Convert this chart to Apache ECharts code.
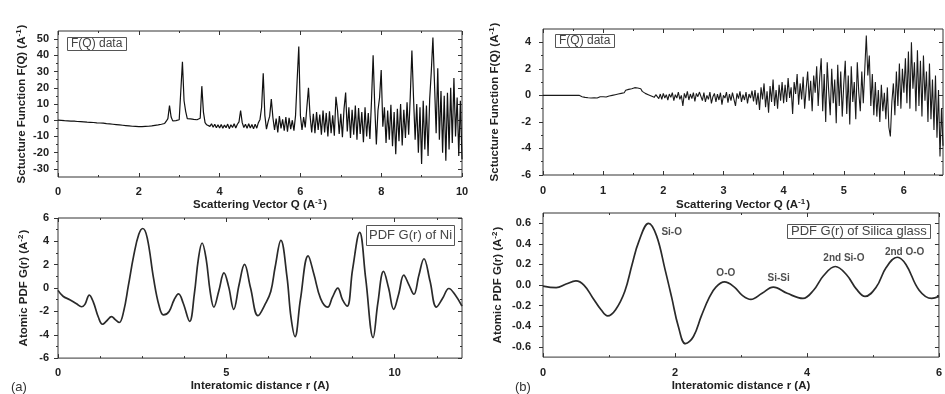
<!DOCTYPE html>
<html><head><meta charset="utf-8">
<script src="https://cdn.jsdelivr.net/npm/echarts@6/dist/echarts.min.js"></script>
<style>html,body{margin:0;padding:0;background:#fff}#c{width:945px;height:394px}</style>
</head><body><div id="c"></div>
<script>
// ---------------- DATA ----------------
// (a) Ni: structure function F(Q), sampled every niQStep from Q = 0
const niQStep = 0.04;
const niFq = [
0,-0.1,-0.1,-0.2,-0.3,-0.3,-0.4,-0.5,-0.5,-0.6,
-0.6,-0.7,-0.8,-0.8,-0.9,-1.0,-1.0,-1.1,-1.2,-1.2,
-1.3,-1.4,-1.4,-1.5,-1.6,-1.6,-1.7,-1.9,-1.8,-2.0,
-2.1,-2.0,-2.3,-2.2,-2.5,-2.4,-2.7,-2.6,-2.9,-2.8,
-3.1,-2.9,-3.3,-3.0,-3.5,-3.2,-3.7,-3.3,-3.8,-3.3,
-3.9,-3.4,-3.9,-3.3,-3.8,-3.2,-3.7,-3.0,-3.5,-2.8,
-3.2,-2.5,-2.9,-2.0,-2.5,-1.4,-2.0,-0.6,1.0,9.0,
2.0,-0.4,-1.2,-0.2,-0.8,0.3,1.5,36.0,12.0,5.5,
1.0,0.2,0.8,-0.3,0.5,-0.6,0.3,-0.4,1.2,21.0,
5.0,-1.5,-2.8,-1.6,-3.8,-2.2,-4.3,-2.5,-4.6,-2.8,
-4.8,-2.6,-5.0,-3.0,-4.6,-2.4,-5.2,-2.8,-4.5,-2.2,
-4.8,-2.5,-1.0,6.0,-1.5,-4.5,-2.5,-5.0,-2.2,-4.8,
-2.6,-5.3,-2.4,-4.9,-1.5,0.5,8.0,29.0,3.0,-5.5,
-1.0,2.5,13.0,1.5,-6.0,1.0,-7.5,2.5,-5.0,0.5,
-6.5,2.0,-7.0,1.5,-5.5,0.0,-6.5,3.0,25.0,45.5,
3.0,-6.0,2.0,-4.5,8.0,20.0,2.5,-7.5,4.0,-8.0,
5.0,-6.0,3.5,-9.0,6.0,-7.5,4.5,-10.0,5.5,-8.0,
3.0,-9.5,14.5,6.0,-8.5,4.0,-10.5,7.0,17.0,-7.0,
8.0,-11.0,6.5,-9.0,9.0,-12.0,7.5,-8.5,5.0,-13.5,
8.0,-10.0,4.5,-11.5,12.0,40.0,9.0,-15.0,6.0,14.0,
31.0,-4.0,8.0,-14.0,6.0,-12.0,9.5,-16.0,5.0,-21.0,
7.0,-13.0,10.0,-15.5,6.5,-11.0,11.0,-9.0,15.0,43.0,
14.0,-12.0,10.0,-20.0,8.0,-27.0,12.0,-18.0,9.0,-22.0,
13.0,30.0,51.0,22.0,-8.0,32.0,-12.0,18.0,-20.0,15.0,
-25.0,17.0,-18.0,20.0,-14.0,26.0,-10.0,14.0,-22.0,12.0,
-24.0
];
// (a) Ni: pair distribution function G(r)
const niR = [0.0,0.15,0.35,0.55,0.7,0.8,0.93,1.05,1.2,1.32,1.45,1.59,1.7,1.82,1.95,2.09,2.25,2.4,2.52,2.65,2.84,3.0,3.13,3.3,3.45,3.58,3.72,3.91,4.05,4.17,4.28,4.4,4.52,4.63,4.78,4.93,5.07,5.22,5.38,5.54,5.72,5.94,6.15,6.32,6.45,6.62,6.8,6.92,7.04,7.2,7.43,7.6,7.8,8.01,8.15,8.31,8.45,8.59,8.75,8.96,9.14,9.36,9.5,9.67,9.82,9.97,10.12,10.27,10.42,10.57,10.72,10.87,11.05,11.24,11.42,11.61,11.8,12.0];
const niG = [-0.2,-0.7,-1.0,-1.35,-1.6,-1.4,-0.6,-1.2,-2.5,-3.1,-2.8,-2.45,-2.7,-2.95,-2.0,0.2,2.8,4.6,5.1,4.3,0.8,-1.5,-2.3,-2.0,-1.0,-0.5,-1.3,-2.85,-0.5,2.5,3.86,2.5,-0.3,-1.63,-0.2,1.3,0.1,-1.82,0.3,2.02,0.0,-2.37,-1.4,-0.3,1.8,4.08,1.0,-2.5,-4.16,-1.0,2.76,1.2,-0.9,-1.63,-0.8,0.0,-1.0,-1.55,1.6,4.77,0.8,-4.24,-1.3,1.42,0.0,-1.82,-0.5,1.11,0.3,-0.53,1.1,2.51,0.6,-1.63,-0.9,-0.04,-0.6,-1.55];

// (b) Silica glass: F(Q), sampled every siQStep from Q = 0
const siQStep = 0.025;
const siFq = [
0,0,0,0,0,0,0,0,0,0,
0,0,0,0,0,0,0,0,0,0,
0,0,0,0,0,
-0.05,-0.1,-0.1,-0.15,-0.12,-0.18,-0.15,-0.2,-0.15,-0.18,-0.12,-0.2,-0.15,-0.1,-0.15,-0.1,
-0.05,-0.12,0.0,-0.05,0.08,0.0,0.12,0.05,0.2,0.1,0.25,0.15,
0.3,0.2,0.38,0.28,0.45,0.32,0.5,0.4,0.58,0.45,0.55,0.42,
0.5,0.3,0.4,0.15,0.3,0.05,0.2,-0.05,0.1,-0.15,0.05,-0.1,
-0.25,0.1,-0.3,0.15,-0.2,0.05,-0.35,0.1,-0.15,0.2,-0.4,0.05,-0.2,0.25,-0.3,0.0,-0.8,0.15,-0.2,0.3,-0.35,0.1,-0.25,0.2,-0.45,0.15,-0.1,0.25,
0.1,-0.4,0.2,-0.5,0.0,-0.3,0.25,-0.6,-0.1,0.15,-0.5,0.1,-0.35,0.2,-0.7,0.0,-0.2,0.25,-0.55,0.1,-0.4,0.2,-0.3,-0.8,0.15,-0.25,0.3,-0.5,0.05,-0.35,0.25,-0.6,0.1,-0.2,0.35,-0.45,
0.4,-0.7,0.2,-1.1,0.6,-0.3,0.9,-0.9,0.3,-1.3,0.7,-0.5,1.2,-0.8,0.4,-1.0,0.8,-0.4,1.0,-0.6,
0.8,-0.5,1.3,-0.2,0.6,-1.4,1.0,0.1,1.6,-0.7,0.9,-0.3,1.4,-1.0,0.5,1.8,-0.4,1.1,-1.2,1.5,0.2,2.2,-0.8,1.3,
2.8,-1.2,1.6,-2.0,2.5,0.3,-1.5,2.0,-0.6,1.2,-2.1,2.3,-0.8,1.8,-1.6,0.8,
2.6,-1.4,1.5,-2.2,2.2,-0.5,1.0,-1.8,2.5,0.2,-1.2,1.8,-0.6,2.0,4.5,1.5,3.0,-0.8,1.6,-1.5,
1.0,-1.6,0.4,-2.0,0.8,-1.2,0.2,-1.8,0.6,-2.4,-3.1,-0.5,0.9,-1.5,1.8,-0.8,2.4,-1.0,2.0,0.2,
2.8,-0.6,3.3,-1.0,4.0,0.5,2.5,-1.2,3.4,-0.8,2.6,-1.6,3.0,-0.4,1.8,-2.0,2.4,-1.8,1.2,-2.6,1.5,-3.2,0.4,-4.6,-1.0,-3.8
];
// (b) Silica glass: G(r)
const siR = [0.0,0.2,0.35,0.5,0.62,0.75,0.88,0.98,1.1,1.24,1.35,1.45,1.6,1.72,1.85,1.95,2.05,2.16,2.28,2.4,2.52,2.62,2.75,2.9,3.02,3.15,3.32,3.49,3.7,3.94,4.1,4.25,4.43,4.6,4.75,4.88,5.05,5.2,5.37,5.5,5.7,5.89,6.0];
const siG = [-0.01,-0.025,0.01,0.04,0.0,-0.12,-0.24,-0.30,-0.24,-0.06,0.2,0.42,0.6,0.48,0.15,-0.12,-0.4,-0.57,-0.5,-0.3,-0.12,-0.02,0.03,-0.02,-0.1,-0.14,-0.08,-0.02,-0.08,-0.13,-0.05,0.09,0.18,0.1,-0.04,-0.11,-0.02,0.17,0.27,0.2,-0.05,-0.13,-0.11];
// peak annotations on the silica G(r)
const siAnnoText = ['Si-O','O-O','Si-Si','2nd Si-O','2nd O-O'];
const siAnnoR = [1.95,2.77,3.57,4.56,5.48];
const siAnnoG = [0.51,0.11,0.065,0.26,0.32];

// tick values
const aTopXMajor = [0,2,4,6,8,10], aTopXMinor = [1,3,5,7,9];
const aTopYMajor = [-30,-20,-10,0,10,20,30,40,50], aTopYMinor = [-25,-15,-5,5,15,25,35,45];
const aBotXMajor = [0,5,10], aBotXMinor = [1.25,2.5,3.75,6.25,7.5,8.75,11.25];
const aBotYMajor = [-6,-4,-2,0,2,4,6], aBotYMinor = [-5,-3,-1,1,3,5];
const bTopXMajor = [0,1,2,3,4,5,6], bTopXMinor = [0.5,1.5,2.5,3.5,4.5,5.5,6.5];
const bTopYMajor = [-6,-4,-2,0,2,4], bTopYMinor = [-5,-3,-1,1,3];
const bBotXMajor = [0,2,4,6], bBotXMinor = [1,3,5];
const bBotYMajor = [-0.6,-0.4,-0.2,0.0,0.2,0.4,0.6], bBotYMinor = [-0.5,-0.3,-0.1,0.1,0.3,0.5];

// ---------------- CHART ----------------
const FONT = "'Liberation Sans', Arial, sans-serif";
const TICKC = '#333';
const lblStyle = {fontFamily: FONT, fontSize: 11, fontWeight: 'bold', color: '#222'};
const nameStyle = {fontFamily: FONT, fontSize: 11.5, fontWeight: 'bold', color: '#222', lineHeight: 14,
  rich: {
    n: {fontFamily: FONT, fontSize: 11.5, fontWeight: 'bold', color: '#222', lineHeight: 14},
    s: {fontFamily: FONT, fontSize: 8, fontWeight: 'bold', color: '#222', lineHeight: 14, verticalAlign: 'top', padding: [0, 1, 0, 0]}
  }};

const grids = [
  {left: 58, top: 31, width: 404, height: 146},
  {left: 58, top: 218, width: 404, height: 147},
  {left: 543, top: 29, width: 400, height: 146},
  {left: 543, top: 213, width: 401, height: 146}
];
grids.forEach(g => { g.show = true; g.borderColor = '#333'; g.borderWidth = 1; g.backgroundColor = 'transparent'; });

const intFmt = v => String(Math.round(v));
const oneFmt = v => (Math.abs(v) < 1e-9 ? 0 : v).toFixed(1);

const panels = [
  {x: {min: 0, max: 10, major: aTopXMajor, minor: aTopXMinor, name: '{n|Scattering Vector Q (A}{s|-1}{n|)}', nameGap: 20, margin: 9, fmt: intFmt},
   y: {min: -35, max: 55, major: aTopYMajor, minor: aTopYMinor, name: '{n|Sctucture Function F(Q) (A}{s|-1}{n|)}', nameGap: 29, margin: 9, fmt: intFmt}},
  {x: {min: 0, max: 12, major: aBotXMajor, minor: aBotXMinor, name: '{n|Interatomic distance r (A)}', nameGap: 19, margin: 9, fmt: intFmt},
   y: {min: -6, max: 6, major: aBotYMajor, minor: aBotYMinor, name: '{n|Atomic PDF G(r) (A}{s|-2}{n|)}', nameGap: 27, margin: 9, fmt: intFmt}},
  {x: {min: 0, max: 6.65, major: bTopXMajor, minor: bTopXMinor, name: '{n|Scattering Vector Q (A}{s|-1}{n|)}', nameGap: 23, margin: 10, fmt: intFmt},
   y: {min: -6, max: 5, major: bTopYMajor, minor: bTopYMinor, name: '{n|Sctucture Function F(Q) (A}{s|-1}{n|)}', nameGap: 41, margin: 12, fmt: intFmt}},
  {x: {min: 0, max: 6, major: bBotXMajor, minor: bBotXMinor, name: '{n|Interatomic distance r (A)}', nameGap: 21, margin: 10, fmt: intFmt},
   y: {min: -0.7, max: 0.7, major: bBotYMajor, minor: bBotYMinor, name: '{n|Atomic PDF G(r) (A}{s|-2}{n|)}', nameGap: 38, margin: 12, fmt: oneFmt}}
];

function tickAxis(base, pos, vals, len, inside) {
  return Object.assign({}, base, {
    position: pos,
    axisTick: {show: true, inside: inside, length: len, customValues: vals, lineStyle: {color: TICKC, width: 1}},
    axisLabel: {show: false}
  });
}

const xAxes = [], yAxes = [];
panels.forEach((p, gi) => {
  const bx = {type: 'value', gridIndex: gi, min: p.x.min, max: p.x.max, splitLine: {show: false}, axisLine: {show: false, onZero: false}};
  const mainX = tickAxis(bx, 'bottom', p.x.major, 4, true);
  mainX.axisLabel = Object.assign({show: true, customValues: p.x.major, margin: p.x.margin, formatter: p.x.fmt}, lblStyle);
  mainX.name = p.x.name; mainX.nameLocation = 'middle'; mainX.nameGap = p.x.nameGap; mainX.nameTextStyle = nameStyle;
  xAxes.push(mainX, tickAxis(bx, 'bottom', p.x.minor, 2, true), tickAxis(bx, 'top', p.x.major, 4, true), tickAxis(bx, 'top', p.x.minor, 2, true));

  const by = {type: 'value', gridIndex: gi, min: p.y.min, max: p.y.max, splitLine: {show: false}, axisLine: {show: false, onZero: false}};
  const mainY = tickAxis(by, 'left', p.y.major, 4, false);
  mainY.axisLabel = Object.assign({show: true, customValues: p.y.major, margin: p.y.margin, formatter: p.y.fmt}, lblStyle);
  mainY.name = p.y.name; mainY.nameLocation = 'middle'; mainY.nameGap = p.y.nameGap; mainY.nameTextStyle = nameStyle;
  yAxes.push(mainY, tickAxis(by, 'left', p.y.minor, 2, false), tickAxis(by, 'right', p.y.major, 4, true), tickAxis(by, 'right', p.y.minor, 2, true));
});

const niFqData = niFq.map((v, i) => [+(i * niQStep).toFixed(4), v]);
const siFqData = siFq.map((v, i) => [+(i * siQStep).toFixed(4), v]);
const niGData = niR.map((r, i) => [r, niG[i]]);
const siGData = siR.map((r, i) => [r, siG[i]]);
const annoData = siAnnoText.map((t, i) => ({name: t, value: [siAnnoR[i], siAnnoG[i]]}));

function box(text, left, top, pad, size) {
  const fs = size || 12;
  return {text: text, left: left, top: top, padding: pad || [1, 4], borderWidth: 1, borderColor: '#555',
    backgroundColor: '#fff',
    textStyle: {fontFamily: FONT, fontSize: fs, fontWeight: 'normal', color: '#444', lineHeight: fs}};
}
function plain(text, left, top) {
  return {text: text, left: left, top: top, padding: 0,
    textStyle: {fontFamily: FONT, fontSize: 13, fontWeight: 'normal', color: '#333'}};
}

const option = {
  animation: false,
  backgroundColor: '#fff',
  grid: grids,
  xAxis: xAxes,
  yAxis: yAxes,
  title: [
    box('F(Q) data', 67, 37),
    box('F(Q) data', 555, 34),
    box('PDF G(r) of Ni', 366, 225, [4, 3], 13),
    box('PDF G(r) of Silica glass', 787, 224, [1, 4], 13),
    plain('(a)', 11, 381),
    plain('(b)', 515, 381)
  ],
  series: [
    {type: 'line', xAxisIndex: 0, yAxisIndex: 0, data: niFqData, showSymbol: false, lineStyle: {color: '#111', width: 1.2}},
    {type: 'line', xAxisIndex: 4, yAxisIndex: 4, data: niGData, showSymbol: false, smooth: 0.4, lineStyle: {color: '#2a2a2a', width: 1.7}},
    {type: 'line', xAxisIndex: 8, yAxisIndex: 8, data: siFqData, showSymbol: false, lineStyle: {color: '#1a1a1a', width: 1.1}},
    {type: 'line', xAxisIndex: 12, yAxisIndex: 12, data: siGData, showSymbol: false, smooth: 0.4, lineStyle: {color: '#2a2a2a', width: 1.7}},
    {type: 'scatter', xAxisIndex: 12, yAxisIndex: 12, data: annoData, symbol: 'circle', symbolSize: 2,
     itemStyle: {color: 'rgba(0,0,0,0)'}, z: 5,
     label: {show: true, position: 'inside', formatter: '{b}', fontFamily: FONT, fontSize: 10, fontWeight: 'bold', color: '#222'}}
  ]
};
const chart = echarts.init(document.getElementById('c'), null, {renderer: 'canvas'});
chart.setOption(option);
</script></body></html>
